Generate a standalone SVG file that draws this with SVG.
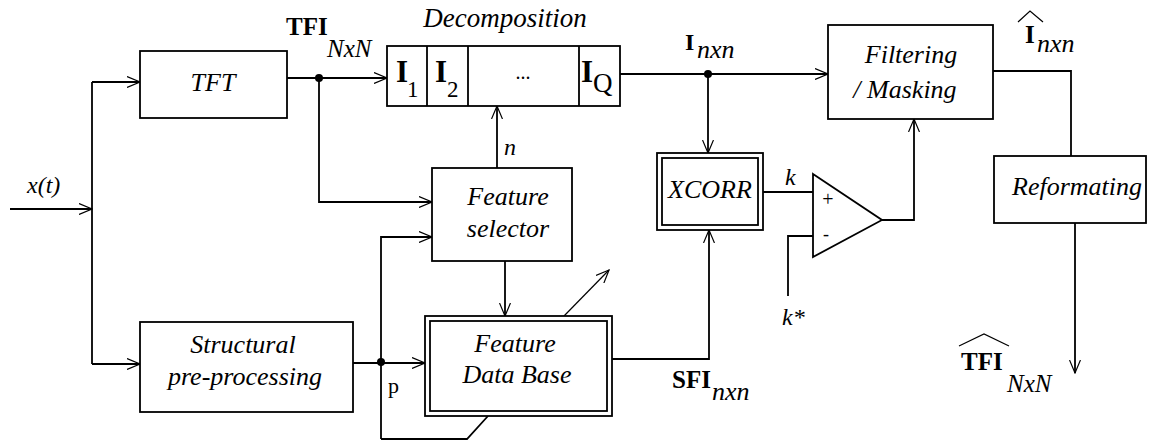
<svg xmlns="http://www.w3.org/2000/svg" width="1150" height="441" viewBox="0 0 1150 441">
<defs>
<style>
.box{fill:#fff;stroke:#000;stroke-width:1.8}
.ln{fill:none;stroke:#000;stroke-width:1.8}
.thin{fill:none;stroke:#000;stroke-width:1.2}
.lbl{font-family:"Liberation Serif",serif;font-style:italic;font-size:26px;fill:#000;text-anchor:middle}
.b{font-family:"Liberation Serif",serif;font-weight:bold;fill:#000}
.it{font-family:"Liberation Serif",serif;font-style:italic;fill:#000}
.rm{font-family:"Liberation Serif",serif;fill:#000}
</style>
<marker id="arr" viewBox="0 0 14 12" refX="13" refY="6" markerWidth="14" markerHeight="12" markerUnits="userSpaceOnUse" orient="auto">
<path d="M0,0.5 L13,6 L0,11.5" fill="none" stroke="#000" stroke-width="1.2"/>
</marker>
</defs>
<rect width="1150" height="441" fill="#fff"/>

<g id="connectors">
<path class="ln" d="M10,209 H92" marker-end="url(#arr)"/>
<path class="ln" d="M92,82 V364"/>
<path class="ln" d="M92,82 H140" marker-end="url(#arr)"/>
<path class="ln" d="M92,364 H140" marker-end="url(#arr)"/>
<path class="ln" d="M287,78 H387" marker-end="url(#arr)"/>
<path class="ln" d="M319,78 V202 H432" marker-end="url(#arr)"/>
<path class="ln" d="M497,168 V106" marker-end="url(#arr)"/>
<path class="ln" d="M620,74 H828" marker-end="url(#arr)"/>
<path class="ln" d="M708,74 V153" marker-end="url(#arr)"/>
<path class="ln" d="M505,261 V316" marker-end="url(#arr)"/>
<path class="ln" d="M353,363 H425" marker-end="url(#arr)"/>
<path class="ln" d="M381,439 V237 H432" marker-end="url(#arr)"/>
<path class="ln" d="M381,439 H467 L488,416"/>
<path class="thin" d="M564,316 L609,270" marker-end="url(#arr)"/>
<path class="ln" d="M612,359 H709 V230" marker-end="url(#arr)"/>
<path class="ln" d="M763,192 H813"/>
<path class="ln" d="M813,236 H788 V296"/>
<path class="ln" d="M882,220 H914 V119" marker-end="url(#arr)"/>
<path class="ln" d="M993,71 H1071 V156"/>
<path class="ln" d="M1075,223 V373" marker-end="url(#arr)"/>
<circle cx="319" cy="78" r="4"/>
<circle cx="708" cy="74" r="4"/>
<circle cx="381" cy="362" r="4"/>
</g>

<g id="tft">
<rect class="box" x="140" y="51" width="147" height="67"/>
<text class="lbl" x="213" y="91">TFT</text>
</g>

<g id="structural">
<rect class="box" x="140" y="322" width="213" height="90"/>
<text class="lbl" x="243" y="353">Structural</text>
<text class="lbl" x="245" y="385">pre-processing</text>
</g>

<g id="decomposition">
<rect class="box" x="387" y="46" width="233" height="60"/>
<path class="ln" d="M427,46 V106 M468,46 V106 M579,46 V106"/>
<text class="lbl" x="505" y="27" style="font-size:27px">Decomposition</text>
<text class="b" x="396" y="82" style="font-size:31px">I</text>
<text class="rm" x="407" y="97" style="font-size:23px">1</text>
<text class="b" x="435" y="82" style="font-size:31px">I</text>
<text class="rm" x="447" y="97" style="font-size:23px">2</text>
<text class="rm" x="523" y="79" style="font-size:20px;text-anchor:middle">...</text>
<text class="b" x="581" y="82" style="font-size:31px">I</text>
<text class="rm" x="593" y="92" style="font-size:27px">Q</text>
</g>

<g id="selector">
<rect class="box" x="432" y="168" width="140" height="93"/>
<text class="lbl" x="508" y="205">Feature</text>
<text class="lbl" x="508" y="237">selector</text>
</g>

<g id="database">
<rect class="box" x="425" y="316" width="187" height="100"/>
<rect class="box" x="430" y="321" width="177" height="90"/>
<text class="lbl" x="515" y="352">Feature</text>
<text class="lbl" x="517" y="383">Data Base</text>
</g>

<g id="xcorr">
<rect class="box" x="657" y="153" width="106" height="77"/>
<rect class="box" x="662" y="158" width="96" height="67"/>
<text class="lbl" x="710" y="198">XCORR</text>
</g>

<g id="comparator">
<path class="ln" d="M813,174 L882,220 L813,257 Z" style="fill:#fff"/>
<text class="rm" x="828" y="206" style="font-size:20px;text-anchor:middle">+</text>
<text class="rm" x="826" y="240" style="font-size:18px;text-anchor:middle">-</text>
</g>

<g id="filtering">
<rect class="box" x="828" y="25" width="165" height="94"/>
<text class="lbl" x="911" y="63">Filtering</text>
<text class="lbl" x="905" y="98">/ Masking</text>
</g>

<g id="reformating">
<rect class="box" x="994" y="156" width="152" height="67"/>
<text class="lbl" x="1077" y="195">Reformating</text>
</g>

<g id="labels">
<text class="it" x="27" y="193" style="font-size:24px">x(t)</text>
<text class="b" x="286" y="35" style="font-size:25px">TFI</text>
<text class="it" x="327" y="57" style="font-size:25px">NxN</text>
<text class="it" x="504" y="155" style="font-size:24px">n</text>
<text class="b" x="685" y="50" style="font-size:24px">I</text>
<text class="it" x="697" y="58" style="font-size:26px">nxn</text>
<text class="b" x="1025" y="43" style="font-size:25px">I</text>
<path class="thin" d="M1018,22 L1030,11 L1043,22"/>
<text class="it" x="1037" y="52" style="font-size:26px">nxn</text>
<text class="it" x="785" y="185" style="font-size:24px">k</text>
<text class="it" x="782" y="325" style="font-size:24px">k*</text>
<text class="rm" x="388" y="393" style="font-size:22px">p</text>
<text class="b" x="672" y="388" style="font-size:25px">SFI</text>
<text class="it" x="712" y="400" style="font-size:26px">nxn</text>
<text class="b" x="961" y="370" style="font-size:25px">TFI</text>
<path class="thin" d="M959,346 L984,334 L1009,346"/>
<text class="it" x="1007" y="392" style="font-size:25px">NxN</text>
</g>
</svg>
